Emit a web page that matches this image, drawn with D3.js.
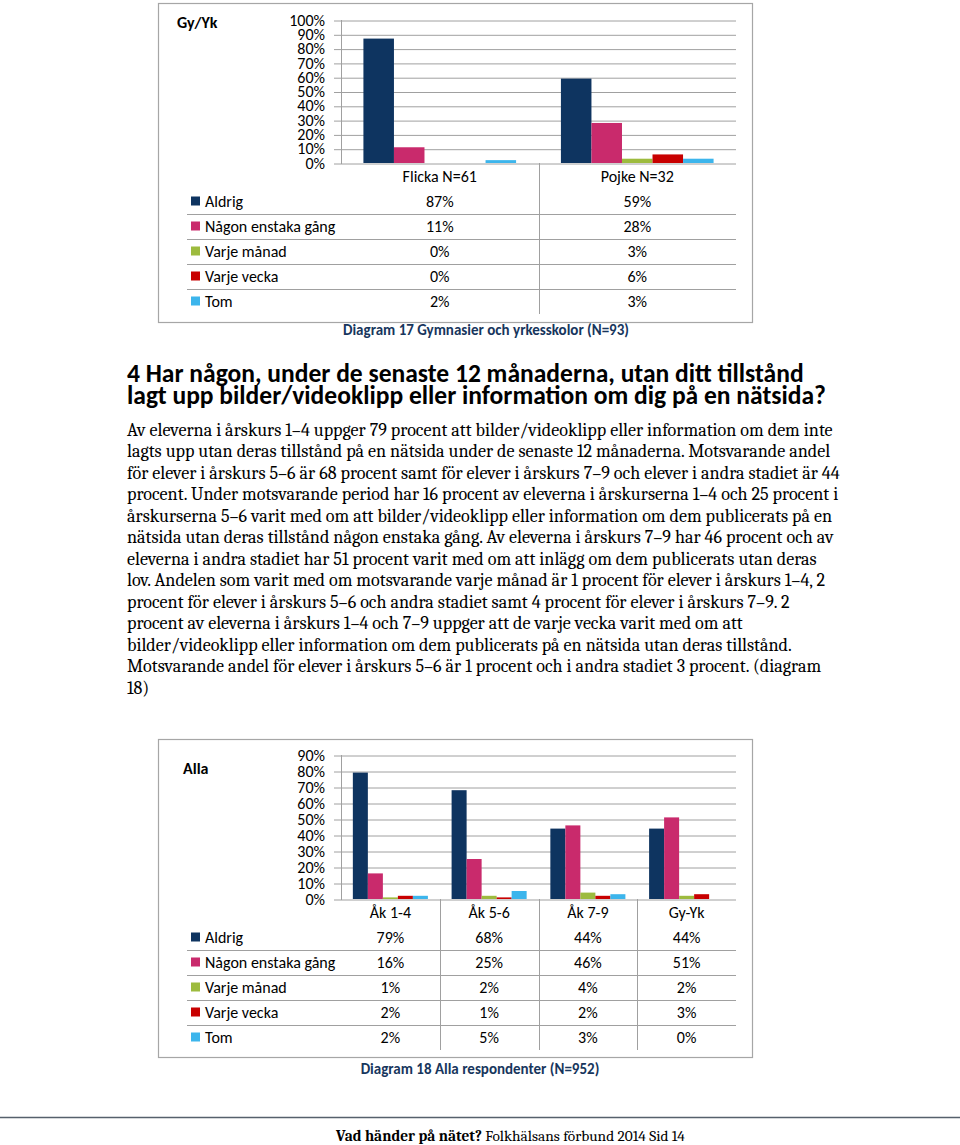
<!DOCTYPE html>
<html><head><meta charset="utf-8">
<script src="https://cdn.jsdelivr.net/npm/d3@7"></script>
<style>body{margin:0;background:#fff}svg{display:block}</style>
</head><body>
<script>
// ---------- data ----------
const seriesNames = ["Aldrig", "Någon enstaka gång", "Varje månad", "Varje vecka", "Tom"];
const seriesColors = ["#0e3460", "#c92a6c", "#9dbb3e", "#c80000", "#3cb5ec"];

const gyCategories = ["Flicka N=61", "Pojke N=32"];
const gyAldrig = [87, 59];
const gyNagon = [11, 28];
const gyManad = [0, 3];
const gyVecka = [0, 6];
const gyTom = [2, 3];
const gyTicks = [0, 10, 20, 30, 40, 50, 60, 70, 80, 90, 100];

const allaCategories = ["Åk 1-4", "Åk 5-6", "Åk 7-9", "Gy-Yk"];
const allaAldrig = [79, 68, 44, 44];
const allaNagon = [16, 25, 46, 51];
const allaManad = [1, 2, 4, 2];
const allaVecka = [2, 1, 2, 3];
const allaTom = [2, 5, 3, 0];
const allaTicks = [0, 10, 20, 30, 40, 50, 60, 70, 80, 90];

const headingLines = [
  "4 Har någon, under de senaste 12 månaderna, utan ditt tillstånd",
  "lagt upp bilder/videoklipp eller information om dig på en nätsida?"
];
const bodyLines = [
  "Av eleverna i årskurs 1–4 uppger 79 procent att bilder/videoklipp eller information om dem inte",
  "lagts upp utan deras tillstånd på en nätsida under de senaste 12 månaderna. Motsvarande andel",
  "för elever i årskurs 5–6 är 68 procent samt för elever i årskurs 7–9 och elever i andra stadiet är 44",
  "procent. Under motsvarande period har 16 procent av eleverna i årskurserna 1–4 och 25 procent i",
  "årskurserna 5–6 varit med om att bilder/videoklipp eller information om dem publicerats på en",
  "nätsida utan deras tillstånd någon enstaka gång. Av eleverna i årskurs 7–9 har 46 procent och av",
  "eleverna i andra stadiet har 51 procent varit med om att inlägg om dem publicerats utan deras",
  "lov. Andelen som varit med om motsvarande varje månad är 1 procent för elever i årskurs 1–4, 2",
  "procent för elever i årskurs 5–6 och andra stadiet samt 4 procent för elever i årskurs 7–9. 2",
  "procent av eleverna i årskurs 1–4 och 7–9 uppger att de varje vecka varit med om att",
  "bilder/videoklipp eller information om dem publicerats på en nätsida utan deras tillstånd.",
  "Motsvarande andel för elever i årskurs 5–6 är 1 procent och i andra stadiet 3 procent. (diagram",
  "18)"
];

// ---------- drawing ----------
const W = 960, H = 1145;
const chartFont = "Carlito, Calibri, Lato, sans-serif";
const serifFont = "Caladea, Cambria, 'Liberation Serif', serif";
const FS = 16;

const svg = d3.select("body").append("svg").attr("width", W).attr("height", H);
svg.append("rect").attr("width", W).attr("height", H).attr("fill", "#fff");

function drawChart(o) {
  const g = svg.append("g");
  const series = o.series;
  g.append("rect")
    .attr("x", o.frame[0] + 0.5).attr("y", o.frame[1] + 0.5)
    .attr("width", o.frame[2] - o.frame[0]).attr("height", o.frame[3] - o.frame[1])
    .attr("fill", "#fff").attr("stroke", "#a6a6a6").attr("stroke-width", 1.2);
  g.append("text").attr("x", o.titleX).attr("y", o.titleY)
    .attr("font-family", chartFont).attr("font-weight", "bold").attr("font-size", 16)
    .text(o.title);

  const y = d3.scaleLinear().domain([0, o.max]).range([o.y0, o.y1]);
  const x0 = d3.scaleBand().domain(o.cats).range([o.xl, o.xr])
    .paddingInner(o.pad).paddingOuter(o.pad / 2);
  const x1 = d3.scaleBand().domain(d3.range(series.length)).range([0, x0.bandwidth()]);

  const grid = g.append("g").attr("transform", `translate(${o.xr},0.5)`)
    .call(d3.axisLeft(y).tickValues(o.ticks).tickFormat("")
      .tickSizeInner(o.xr - o.xl + 7).tickSizeOuter(0));
  grid.select(".domain").remove();
  grid.selectAll("line").attr("stroke", "#a0a0a0");

  const ax = g.append("g").attr("transform", `translate(${o.xl},0)`)
    .call(d3.axisLeft(y).tickValues(o.ticks).tickFormat(d => d + "%")
      .tickSizeInner(0).tickSizeOuter(0).tickPadding(16));
  ax.select(".domain").remove();
  ax.selectAll("text").attr("font-family", chartFont).attr("font-size", FS).attr("fill", "#000");

  g.append("line").attr("x1", o.xl + 0.5).attr("x2", o.xl + 0.5)
    .attr("y1", y(o.max)).attr("y2", y(0) + 1).attr("stroke", "#a0a0a0");

  series.forEach((vals, si) => {
    g.append("g").selectAll("rect").data(vals).join("rect")
      .attr("x", (d, i) => x0(o.cats[i]) + x1(si))
      .attr("width", x1.bandwidth())
      .attr("y", d => y(d))
      .attr("height", d => y(0) - y(d))
      .attr("fill", seriesColors[si]);
  });

  const rowY = i => o.headerY + (i + 1) * o.rowH;
  const half = x0.step() * x0.paddingInner() / 2;
  o.cats.slice(1).forEach(c => {
    const xx = Math.round(x0(c) - half) + 0.5;
    g.append("line").attr("x1", xx).attr("x2", xx)
      .attr("y1", y(0)).attr("y2", rowY(series.length - 1) + 13)
      .attr("stroke", "#a0a0a0");
  });
  for (let i = 0; i < series.length - 1; i++) {
    const yy = Math.round(rowY(i) + o.rowH / 2) + 0.5;
    g.append("line").attr("x1", o.tableL).attr("x2", o.xr)
      .attr("y1", yy).attr("y2", yy).attr("stroke", "#a0a0a0");
  }
  g.selectAll(".hdr").data(o.cats).join("text")
    .attr("x", c => x0(c) + x0.bandwidth() / 2).attr("y", o.headerY)
    .attr("dy", "0.35em").attr("text-anchor", "middle")
    .attr("font-family", chartFont).attr("font-size", FS).text(c => c);
  series.forEach((vals, si) => {
    const yy = rowY(si);
    g.append("rect").attr("x", o.tableL + 4).attr("y", yy - 4.5)
      .attr("width", 9).attr("height", 9).attr("fill", seriesColors[si]);
    g.append("text").attr("x", o.tableL + 18).attr("y", yy).attr("dy", "0.35em")
      .attr("font-family", chartFont).attr("font-size", FS).text(seriesNames[si]);
    g.append("g").selectAll("text").data(vals).join("text")
      .attr("x", (d, i) => x0(o.cats[i]) + x0.bandwidth() / 2).attr("y", yy)
      .attr("dy", "0.35em").attr("text-anchor", "middle")
      .attr("font-family", chartFont).attr("font-size", FS).text(d => d + "%");
  });
  g.append("text").attr("x", o.capX).attr("y", o.capY).attr("text-anchor", "middle")
    .attr("font-family", chartFont).attr("font-weight", "bold").attr("font-size", 15)
    .attr("fill", "#17365d").text(o.caption);
}

drawChart({
  frame: [158, 3, 752, 322], title: "Gy/Yk", titleX: 177, titleY: 28,
  cats: gyCategories, series: [gyAldrig, gyNagon, gyManad, gyVecka, gyTom],
  max: 100, ticks: gyTicks, y0: 163, y1: 20, xl: 341, xr: 736, pad: 0.227,
  headerY: 176, rowH: 25, tableL: 187,
  caption: "Diagram 17 Gymnasier och yrkesskolor (N=93)", capX: 486, capY: 335
});

drawChart({
  frame: [158, 739, 752, 1057], title: "Alla", titleX: 183, titleY: 774,
  cats: allaCategories, series: [allaAldrig, allaNagon, allaManad, allaVecka, allaTom],
  max: 90, ticks: allaTicks, y0: 899, y1: 755, xl: 341, xr: 736, pad: 0.24,
  headerY: 912, rowH: 25, tableL: 187,
  caption: "Diagram 18 Alla respondenter (N=952)", capX: 480, capY: 1074
});

// fit a block of lines so its first line spans the target width
function fitLines(lines, family, weight, baseSize, x, y0, lh, target) {
  const g = svg.append("g");
  const t = g.selectAll("text").data(lines).join("text")
    .attr("x", x).attr("y", (d, i) => y0 + i * lh)
    .attr("font-family", family).attr("font-weight", weight)
    .attr("font-size", baseSize).attr("fill", "#000").text(d => d);
  const w = t.nodes()[0].getComputedTextLength();
  t.attr("font-size", baseSize * target / w);
  return g;
}

fitLines(headingLines, "Carlito, Calibri, Lato, sans-serif", "bold", 21, 127, 382, 22, 677);
fitLines(bodyLines, serifFont, "normal", 17, 127, 435.5, 21.5, 706);

// footer
svg.append("line").attr("x1", 0).attr("x2", W).attr("y1", 1117.5).attr("y2", 1117.5)
  .attr("stroke", "#56606c").attr("stroke-width", 1.5);
const ft = svg.append("text").attr("x", 336).attr("y", 1141)
  .attr("font-family", serifFont).attr("font-size", 15.5).attr("fill", "#000");
ft.append("tspan").attr("font-weight", "bold").text("Vad händer på nätet?");
ft.append("tspan").text(" Folkhälsans förbund 2014 Sid 14");
const fw = ft.node().getComputedTextLength();
ft.attr("font-size", 15.5 * 349 / fw);
</script>
</body></html>
